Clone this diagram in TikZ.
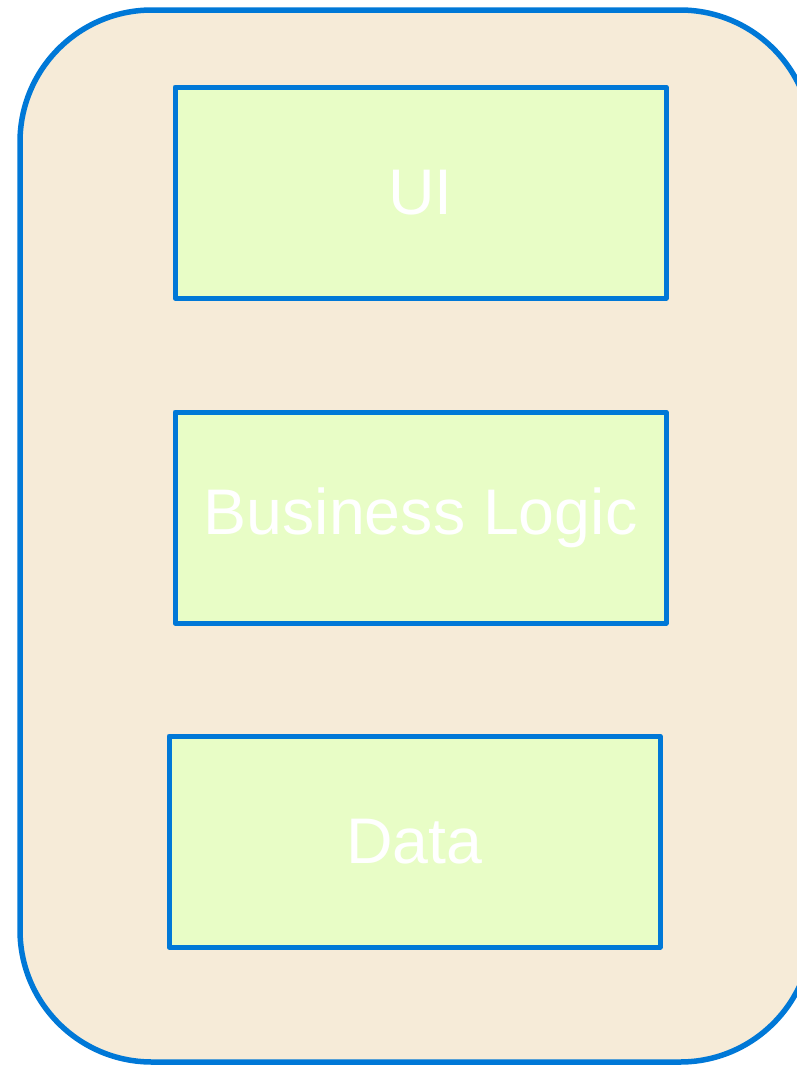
\documentclass[tikz,border=0pt]{standalone}
\usepackage{fontspec}
\setmainfont{Liberation Sans}
\definecolor{edgeblue}{RGB}{0,120,215}
\definecolor{outerfill}{RGB}{246,235,216}
\definecolor{boxfill}{RGB}{232,253,198}
\begin{document}
\begin{tikzpicture}[x=1pt,y=-1pt,
  layer/.style={draw=edgeblue,line width=5pt,line join=round,fill=boxfill,minimum width=491pt,minimum height=211pt,inner sep=0pt,
    text=white,font=\fontsize{64.5}{76}\selectfont},
  container/.style={draw=edgeblue,line width=5.5pt,fill=outerfill,rounded corners=132pt}]
\useasboundingbox (0,0) rectangle (797,1066);
\clip (0,0) rectangle (797,1066);
\draw[container] (20,10) rectangle (812,1062);
\node[layer] (ui) at (420.5,192.5) {\raisebox{-3pt}{UI}};
\node[layer] (bl) at (420.5,517.5) {\raisebox{-4pt}{Business Logic}};
\node[layer] (data) at (414.5,841.5) {\raisebox{-2pt}{Data}};
\end{tikzpicture}
\end{document}
